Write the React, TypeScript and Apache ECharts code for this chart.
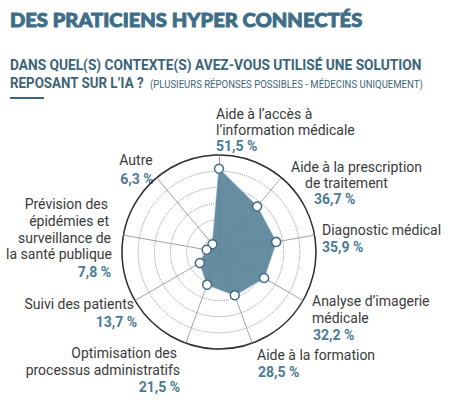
import React, { useEffect, useRef } from "react";
import * as echarts from "echarts";

const title = "DES PRATICIENS HYPER CONNECTÉS";
const subtitle1 = "DANS QUEL(S) CONTEXTE(S) AVEZ-VOUS UTILISÉ UNE SOLUTION";
const subtitle2 = "REPOSANT SUR L’IA ?";
const subtitleNote = "(PLUSIEURS RÉPONSES POSSIBLES - MÉDECINS UNIQUEMENT)";

const categories = [
  "Aide à l’accès à\nl’information médicale",
  "Aide à la prescription\nde traitement",
  "Diagnostic médical",
  "Analyse d’imagerie\nmédicale",
  "Aide à la formation",
  "Optimisation des\nprocessus administratifs",
  "Suivi des patients",
  "Prévision des\népidémies et\nsurveillance de\nla santé publique",
  "Autre",
];
const values = [51.5, 36.7, 35.9, 32.2, 28.5, 21.5, 13.7, 7.8, 6.3];
const maxValue = 60;

// Label layout: per category, list of [x, y] for each text line then the value line, plus alignment
const labelLayout: { align: string; lines: number[][] }[] = [
  { align: "left", lines: [[216, 114], [216, 130], [216, 146]] },
  { align: "left", lines: [[291, 167], [305, 183], [314, 199]] },
  { align: "left", lines: [[322, 230], [322, 247]] },
  { align: "left", lines: [[312, 301], [312, 318], [313, 335]] },
  { align: "left", lines: [[257, 355], [258, 372]] },
  { align: "right", lines: [[177, 353], [180, 370], [180, 387]] },
  { align: "right", lines: [[134, 304], [137, 322]] },
  { align: "right", lines: [[108, 204], [109, 221], [111, 238], [112, 254], [111, 272]] },
  { align: "center", lines: [[136, 160], [137, 179]] },
];

const fmt = (v: number) => v.toFixed(1).replace(".", ",") + " %";

export default function App() {
  const ref = useRef<HTMLDivElement>(null);
  useEffect(() => {
    document.body.style.margin = "0";
    const chart = echarts.init(ref.current!, null, { renderer: "svg" });
    // ECharts radar places indicators counter-clockwise; reverse to read clockwise
    const order = [0, 8, 7, 6, 5, 4, 3, 2, 1];
    const indicator = order.map((i) => ({ name: categories[i], max: maxValue }));

    const graphics: any[] = [
      {
        type: "text",
        x: 10,
        y: 20,
        scaleX: 1.06,
        style: {
          text: title,
          fontFamily: "Lato",
          fontWeight: 900,
          fontSize: 19,
          fill: "#3e6e87",
          stroke: "#3e6e87",
          lineWidth: 0.9,
          verticalAlign: "middle",
        },
      },
      {
        type: "text",
        x: 10,
        y: 65,
        scaleX: 0.915,
        style: {
          text: subtitle1,
          fontFamily: "Roboto",
          fontWeight: "bold",
          fontSize: 15,
          fill: "#3c6479",
          verticalAlign: "middle",
        },
      },
      {
        type: "text",
        x: 10,
        y: 83,
        scaleX: 0.89,
        style: {
          text: subtitle2,
          fontFamily: "Roboto",
          fontWeight: "bold",
          fontSize: 15,
          fill: "#3c6479",
          verticalAlign: "middle",
        },
      },
      {
        type: "text",
        x: 150,
        y: 84,
        scaleX: 0.87,
        style: {
          text: subtitleNote,
          fontFamily: "Roboto",
          fontSize: 11,
          fill: "#3c6479",
          verticalAlign: "middle",
        },
      },
      {
        type: "rect",
        shape: { x: 10, y: 97, width: 34, height: 2 },
        style: { fill: "#3c6479" },
      },
    ];

    categories.forEach((cat, i) => {
      const lines = cat.split("\n");
      const lay = labelLayout[i];
      lines.forEach((ln, j) => {
        graphics.push({
          type: "text",
          x: lay.lines[j][0],
          y: lay.lines[j][1],
          style: {
            text: ln,
            fontFamily: "Roboto",
            fontSize: 14,
            fill: "#3a3a3a",
            align: lay.align,
            verticalAlign: "middle",
          },
        });
      });
      const vp = lay.lines[lines.length];
      graphics.push({
        type: "text",
        x: vp[0],
        y: vp[1],
        style: {
          text: fmt(values[i]),
          fontFamily: "Roboto",
          fontWeight: "bold",
          fontSize: 14,
          fill: "#4a7b94",
          align: lay.align,
          verticalAlign: "middle",
        },
      });
    });

    chart.setOption({
      animation: false,
      backgroundColor: "#ffffff",
      radar: [
        {
          center: [219, 252],
          radius: 97,
          shape: "circle",
          splitNumber: 6,
          indicator,
          axisName: { show: false },
          splitArea: { show: false },
          splitLine: { lineStyle: { color: "#8f8f8f", type: "dotted", width: 1 } },
          axisLine: { lineStyle: { color: "#8a8a8a", width: 0.8 } },
          axisTick: { show: false },
        },
        {
          center: [219, 252],
          radius: 97,
          shape: "circle",
          splitNumber: 1,
          indicator,
          axisName: { show: false },
          splitArea: { show: false },
          splitLine: { lineStyle: { color: "#2f2f2f", width: 1.5 } },
          axisLine: { show: false },
          axisTick: { show: false },
        },
      ],
      series: [
        {
          type: "radar",
          radarIndex: 0,
          symbol: "circle",
          symbolSize: 9,
          itemStyle: { color: "#ffffff", borderColor: "#3f6a80", borderWidth: 1.5 },
          lineStyle: { color: "#b3cddb", width: 1.5 },
          areaStyle: { color: "#5a8399", opacity: 0.92 },
          data: [{ value: order.map((i) => values[i]) }],
        },
      ],
      graphic: graphics,
    });
    return () => chart.dispose();
  }, []);
  return <div ref={ref} style={{ width: 460, height: 409 }} />;
}
